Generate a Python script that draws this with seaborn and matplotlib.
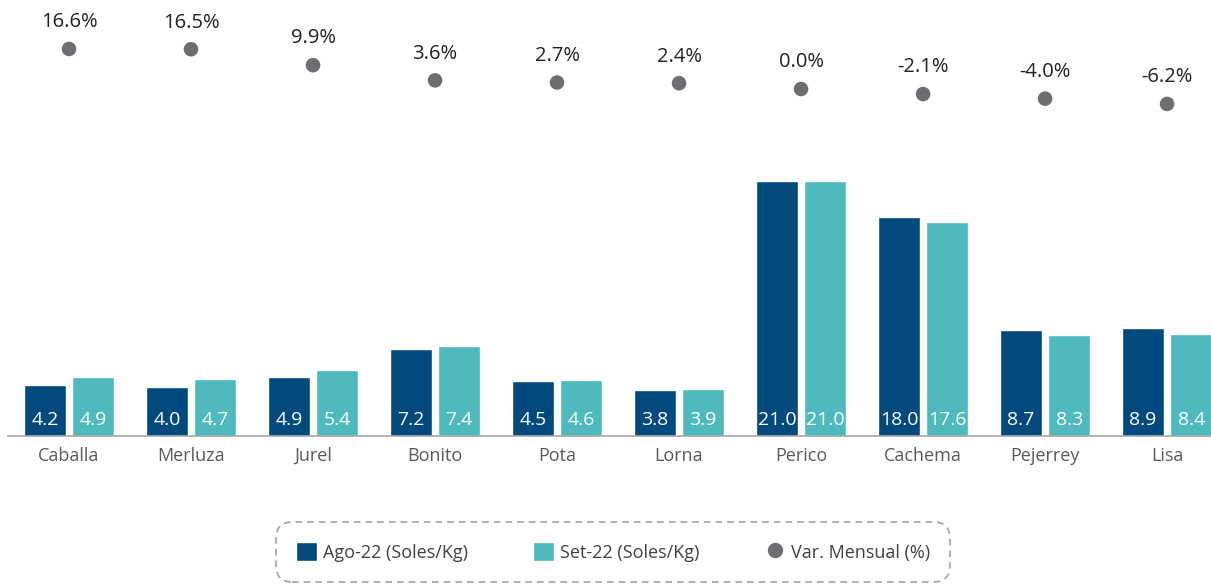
import numpy as np
import pandas as pd
import matplotlib
matplotlib.use('Agg')
import matplotlib.pyplot as plt
from matplotlib.lines import Line2D
from matplotlib.patches import Patch
import seaborn as sns

sns.set_theme(style='white')
plt.rcParams['font.family'] = ['Open Sans', 'DejaVu Sans']

especies = ['Caballa', 'Merluza', 'Jurel', 'Bonito', 'Pota', 'Lorna',
            'Perico', 'Cachema', 'Pejerrey', 'Lisa']
ago22 = [4.2, 4.0, 4.9, 7.2, 4.5, 3.8, 21.0, 18.0, 8.7, 8.9]
set22 = [4.9, 4.7, 5.4, 7.4, 4.6, 3.9, 21.0, 17.6, 8.3, 8.4]
var_mensual = [16.6, 16.5, 9.9, 3.6, 2.7, 2.4, 0.0, -2.1, -4.0, -6.2]

navy = '#02497E'
teal = '#4EBABD'
grey = '#6D6E71'

df = pd.DataFrame({'Especie': especies * 2,
                   'Precio': ago22 + set22,
                   'Mes': ['Ago-22'] * len(especies) + ['Set-22'] * len(especies)})

fig = plt.figure(figsize=(12.11, 5.86), dpi=100)
ax = fig.add_axes([8 / 1211, 150 / 586, 1 - 8 / 1211, 436 / 586])

sns.barplot(data=df, x='Especie', y='Precio', hue='Mes', palette=[navy, teal],
            width=0.79, gap=0.14, saturation=1, legend=False, ax=ax)

for cont in ax.containers:
    for bar in cont:
        ax.text(bar.get_x() + bar.get_width() / 2, 1.3, '{:.1f}'.format(bar.get_height()),
                ha='center', va='center', color='white', fontsize=14)

ax.set_ylim(0, 436 / 12.14)
ax.set_xlim(-0.5, 9.36)
ax.set_xlabel('')
ax.set_ylabel('')
ax.set_yticks([])
ax.tick_params(axis='x', length=0, pad=8, labelsize=13, labelcolor='#595959')
for s in ['top', 'right', 'left']:
    ax.spines[s].set_visible(False)
ax.spines['bottom'].set_color('#A6A6A6')
ax.spines['bottom'].set_linewidth(1.2)

ax2 = ax.twinx()
sns.scatterplot(x=np.arange(len(especies)), y=var_mensual, color=grey, s=110,
                edgecolor='none', ax=ax2, zorder=3)
for i, v in enumerate(var_mensual):
    ax2.annotate('{:.1f}%'.format(v), xy=(i, v), xytext=(0, 12),
                 textcoords='offset points', ha='center', va='bottom',
                 fontsize=14.5, color='#222222')
ax2.set_ylim(-(436 - 89) / 2.41, 89 / 2.41)
ax2.set_yticks([])
ax2.set_ylabel('')
for s in ax2.spines.values():
    s.set_visible(False)

handles = [Patch(facecolor=navy, label='Ago-22 (Soles/Kg)'),
           Patch(facecolor=teal, label='Set-22 (Soles/Kg)'),
           Line2D([], [], marker='o', linestyle='none', color=grey, markersize=10,
                  label='Var. Mensual (%)')]
leg = fig.legend(handles=handles, loc='center', bbox_to_anchor=(613 / 1211, 1 - 552 / 586),
                 ncol=3, frameon=True, fontsize=13, handlelength=1.2, handleheight=1.2,
                 handletextpad=0.3, columnspacing=3.6, borderpad=0.9, fancybox=True,
                 labelcolor='#404040')
frame = leg.get_frame()
frame.set_linestyle((0, (4, 3)))
frame.set_edgecolor('#8C8C8C')
frame.set_linewidth(1.2)
frame.set_boxstyle('round', pad=0.2, rounding_size=0.9)

fig.savefig('out.png', dpi=100)
